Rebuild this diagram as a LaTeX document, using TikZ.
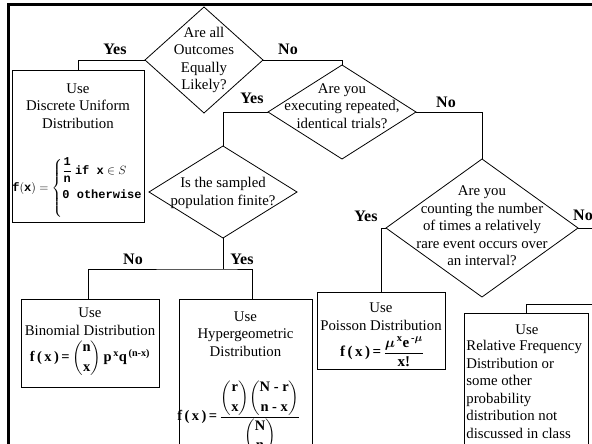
\documentclass[tikz,border=0pt]{standalone}
\usepackage{fontspec}
\usepackage{amsmath}
\setmainfont{Liberation Serif}
\newfontfamily\monof{Liberation Mono}
\usetikzlibrary{shapes.geometric}
\newcommand\mtt[1]{\text{\monof\bfseries #1}}
\newcommand\mbf[1]{\textbf{#1}}
\newcommand\fxeq{\mbf{f\thinspace(\thinspace x\thinspace)\thinspace=\thinspace}}
\begin{document}
\begin{tikzpicture}[x=1pt,y=-1pt,line width=0.8pt,
  dia/.style={draw,diamond,inner sep=0pt,outer sep=0pt},
  box/.style={draw,rectangle,inner sep=0pt,outer sep=0pt},
  txt/.style={font=\fontsize{14.8}{17.5}\selectfont,align=center,inner sep=0pt},
  lab/.style={font=\bfseries\fontsize{16}{18}\selectfont,inner sep=0pt},
  frm/.style={font=\fontsize{13}{15}\selectfont,inner sep=0pt}]
\useasboundingbox (0,0) rectangle (592,444);
\clip (0,0) rectangle (592,444);
\fill[white] (0,0) rectangle (592,444);
% frame
\draw[line width=2.4pt] (8.3,470) -- (8.3,4.5) -- (600,4.5);
% diamonds
\node[dia,minimum width=118pt,minimum height=106pt] (d1) at (204,60) {};
\node[txt] (t1) at (d1) {Are all\\Outcomes\\Equally\\Likely?};
\node[dia,minimum width=148pt,minimum height=94pt] (d2) at (342,112) {};
\node[txt] (t2) at (342,106) {Are you\\executing repeated,\\identical trials?};
\node[dia,minimum width=148pt,minimum height=92pt] (d3) at (223,192) {};
\node[txt] (t3) at (223,193) {Is the sampled\\population finite?};
\node[dia,minimum width=192pt,minimum height=138pt] (d4) at (482,228) {};
\node[txt] (t4) at (482,226) {Are you\\counting the number\\of times a relatively\\rare event occurs over\\an interval?};
% boxes
\node[box,minimum width=132pt,minimum height=152pt] (b1) at (78,146) {};
\node[txt] (bt1) at (78,106) {Use\\Discrete Uniform\\Distribution};
\node[box,minimum width=138pt,minimum height=88pt] (b2) at (90,343) {};
\node[txt] (bt2) at (90,321.5) {Use\\Binomial Distribution};
\node[box,minimum width=133pt,minimum height=171pt] (b3) at (245.5,384.5) {};
\node[txt] (bt3) at (245.5,334) {Use\\Hypergeometric\\Distribution};
\node[box,minimum width=128pt,minimum height=77pt] (b4) at (381,330.5) {};
\node[txt] (bt4) at (381,316.5) {Use\\Poisson Distribution};
\node[box,minimum width=124pt,minimum height=157pt] (b5) at (526,391.5) {};
\node[txt] (bt5a) at (527,330) {Use};
\node[txt,align=left,anchor=west] (bt5b) at (466,389.5) {Relative Frequency\\Distribution or\\some other\\probability\\distribution not\\discussed in class};
% formulas
\node[frm,font=\fontsize{12}{14}\selectfont,anchor=west] (f1) at (12,188) {$\mtt{f}(\mtt{x})=\left\{\begin{array}{@{}l@{}}\rule{0pt}{15pt}\dfrac{\mtt{1}}{\mtt{n}}\ \mtt{if x}\in S\\[10pt]\mtt{0 otherwise}\rule[-20pt]{0pt}{20pt}\end{array}\right.$};
\node[frm,font=\fontsize{14.5}{16}\selectfont] (f2) at (90,358) {$\fxeq\dbinom{\mbf{n}}{\mbf{x}}\,\mbf{p}^{\,\mbf{x}}\mbf{q}^{\,\mbf{(n-x)}}$};
\node[frm,font=\fontsize{14.5}{16}\selectfont,anchor=west] (f3) at (177,417) {$\fxeq\dfrac{\dbinom{\mbf{r}}{\mbf{x}}\dbinom{\mbf{N - r}}{\mbf{n - x}}}{\dbinom{\mbf{N}}{\mbf{n}}}$};
\node[frm,font=\fontsize{15}{17}\selectfont] (f4) at (382,352) {$\fxeq\dfrac{\boldsymbol{\mu}^{\,\mbf{x}}\mbf{e}^{\,\mbf{-}\boldsymbol{\mu}}}{\mbf{x!}}$};
% junction coordinates
\coordinate (j3) at (223,269);
\coordinate (b2t) at (88,299);
\coordinate (b3t) at (252,299);
\coordinate (e4) at (600,228);
\coordinate (e5) at (600,304);
% connectors
\draw (d1.west) -| (b1.north);
\draw (d1.east) -| (d2.north);
\draw (d2.west) -| (d3.north);
\draw (d2.east) -| (d4.north);
\draw (d3.south) -- (j3);
\draw (b2t) |- (j3) -| (b3t);
\draw (d4.west) -| (b4.north);
\draw (d4.east) -- (e4);
\draw (b5.north) |- (e5);
% labels
\node[lab] (y1) at (115,49) {Yes};
\node[lab] (n1) at (288,49) {No};
\node[lab] (y2) at (252,98) {Yes};
\node[lab] (n2) at (446,102) {No};
\node[lab] (n3) at (133,259) {No};
\node[lab] (y3) at (242,259) {Yes};
\node[lab] (y4) at (366,216) {Yes};
\node[lab] (n4) at (583,215) {No};
\end{tikzpicture}
\end{document}
